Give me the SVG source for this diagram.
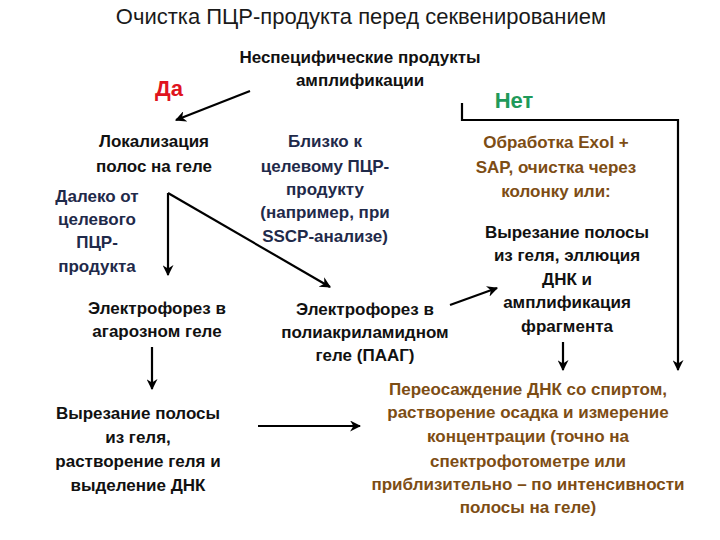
<svg xmlns="http://www.w3.org/2000/svg" width="720" height="540" viewBox="0 0 720 540">
<style>
text{font-family:"Liberation Sans",Arial,sans-serif;text-anchor:middle}
.t{font-size:22px;fill:#1a1a1a}
.b{font-size:17px;font-weight:bold;fill:#111}
.n{font-size:17px;font-weight:bold;fill:#1f2a4a}
.o{font-size:17px;font-weight:bold;fill:#7d4d14}
.k{fill:none;stroke:#000;stroke-width:2.2}
</style>
<defs>
<marker id="ah" viewBox="0 0 10 10" refX="9" refY="5" markerWidth="5" markerHeight="5" orient="auto" markerUnits="strokeWidth">
<path d="M0,0 L10,5 L0,10 L3,5 Z" fill="#000"/>
</marker>
</defs>
<rect width="720" height="540" fill="#fff"/>
<g id="title"><text class="t" x="361" y="24">Очистка ПЦР-продукта перед секвенированием</text></g>
<g id="nonspecific"><text class="b" x="360" y="63">Неспецифические продукты</text><text class="b" x="360" y="86">амплификации</text></g>
<g id="yes"><text x="169" y="96" style="font-size:22px;font-weight:bold;fill:#e0141e">Да</text></g>
<g id="no"><text x="514" y="108" style="font-size:22px;font-weight:bold;fill:#1f9a5a">Нет</text></g>
<g id="localization"><text class="b" x="154" y="147">Локализация</text><text class="b" x="154" y="172">полос на геле</text></g>
<g id="close"><text class="n" x="325" y="147">Близко к</text><text class="n" x="325" y="172">целевому ПЦР-</text><text class="n" x="325" y="195">продукту</text><text class="n" x="325" y="218">(например, при</text><text class="n" x="325" y="242">SSCP-анализе)</text></g>
<g id="exo"><text class="o" x="556" y="148">Обработка ExoI +</text><text class="o" x="556" y="173">SAP, очистка через</text><text class="o" x="556" y="197">колонку или:</text></g>
<g id="far"><text class="n" x="97" y="202">Далеко от</text><text class="n" x="97" y="225">целевого</text><text class="n" x="97" y="248">ПЦР-</text><text class="n" x="97" y="272">продукта</text></g>
<g id="cutamp"><text class="b" x="567" y="238">Вырезание полосы</text><text class="b" x="567" y="261">из геля, эллюция</text><text class="b" x="567" y="285">ДНК и</text><text class="b" x="567" y="308">амплификация</text><text class="b" x="567" y="332">фрагмента</text></g>
<g id="agarose"><text class="b" x="157" y="314">Электрофорез в</text><text class="b" x="157" y="337">агарозном геле</text></g>
<g id="paag"><text class="b" x="365" y="315">Электрофорез в</text><text class="b" x="365" y="338">полиакриламидном</text><text class="b" x="365" y="361">геле (ПААГ)</text></g>
<g id="cutgel"><text class="b" x="138" y="419">Вырезание полосы</text><text class="b" x="138" y="443">из геля,</text><text class="b" x="138" y="467">растворение геля и</text><text class="b" x="138" y="491">выделение ДНК</text></g>
<g id="reprecip"><text class="o" x="528" y="395">Переосаждение ДНК со спиртом,</text><text class="o" x="528" y="418">растворение осадка и измерение</text><text class="o" x="528" y="442">концентрации (точно на</text><text class="o" x="528" y="467">спектрофотометре или</text><text class="o" x="528" y="490">приблизительно – по интенсивности</text><text class="o" x="528" y="513">полосы на геле)</text></g>
<g id="connectors">
<line class="k" x1="250" y1="91" x2="176" y2="120" marker-end="url(#ah)"/>
<polyline class="k" points="462,103 462,120 678,120 678,370" marker-end="url(#ah)"/>
<polyline class="k" points="168,193 330,287" marker-end="url(#ah)"/>
<line class="k" x1="168" y1="193" x2="168" y2="275" marker-end="url(#ah)"/>
<line class="k" x1="450" y1="305" x2="497" y2="288" marker-end="url(#ah)"/>
<line class="k" x1="152" y1="347" x2="152" y2="389" marker-end="url(#ah)"/>
<line class="k" x1="258" y1="426" x2="360" y2="426" marker-end="url(#ah)"/>
<line class="k" x1="563" y1="342" x2="563" y2="370" marker-end="url(#ah)"/>
</g>
</svg>
